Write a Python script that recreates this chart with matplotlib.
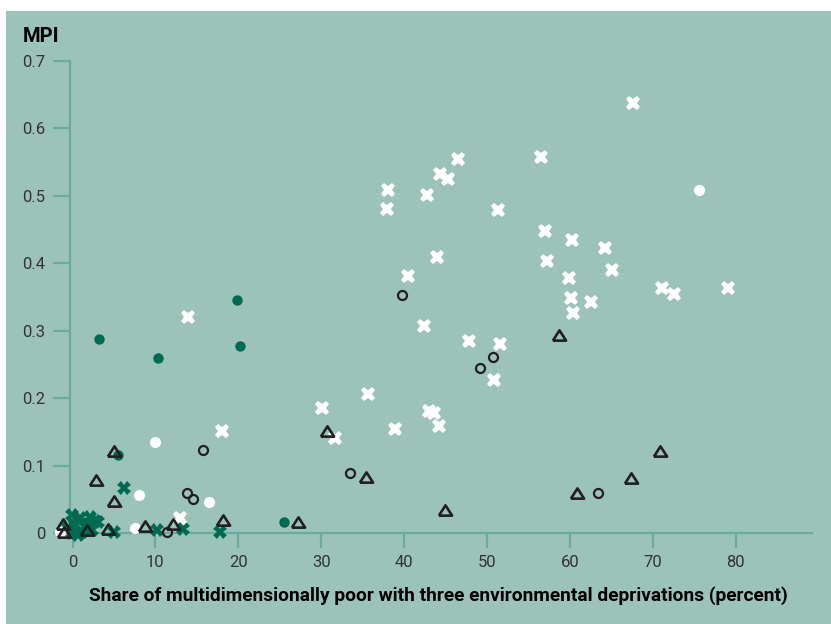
import matplotlib
matplotlib.use("Agg")
import matplotlib.pyplot as plt
from matplotlib.patches import Rectangle

plt.rcParams['font.family'] = ['Roboto', 'DejaVu Sans']

# --- data (share of MPI poor with 3 env. deprivations, MPI) ---
white_x_x = [13.9, 18.07, 12.97, 30.13, 31.7, 35.61, 38.02, 37.9, 40.43, 38.87, 42.36, 42.73,
             43.93, 44.33, 45.33, 46.47, 43.04, 43.64, 44.21, 47.83, 51.36, 51.53, 50.81,
             56.51, 57.0, 57.27, 60.29, 59.89, 60.13, 60.34, 62.55, 64.27, 65.08, 67.58,
             71.11, 72.59, 79.03]
white_x_y = [0.321, 0.152, 0.022, 0.185, 0.141, 0.206, 0.508, 0.481, 0.381, 0.154, 0.307, 0.502,
             0.409, 0.532, 0.525, 0.554, 0.181, 0.178, 0.159, 0.285, 0.479, 0.281, 0.227,
             0.558, 0.448, 0.404, 0.435, 0.378, 0.348, 0.326, 0.342, 0.422, 0.390, 0.637,
             0.364, 0.354, 0.364]

white_o_x = [75.57, 9.99, 7.99, 16.5, 7.58, -1.51]
white_o_y = [0.509, 0.135, 0.056, 0.046, 0.008, 0.001]

green_o_x = [19.81, 3.23, 20.21, 10.35, 5.43, 25.51]
green_o_y = [0.345, 0.287, 0.278, 0.259, 0.115, 0.017]

green_x_x = [6.21, 5.04, 10.16, 13.29, 17.79, -0.06, 0.9, 2.11, 2.71, 0.3, 1.51, -0.06,
             0.66, 2.35, -0.54, 3.08, 1.15, 1.87]
green_x_y = [0.066, 0.002, 0.004, 0.006, 0.002, 0.027, 0.022, 0.024, 0.018, 0.012, 0.009, 0.0,
             -0.003, 0.004, 0.007, 0.016, 0.001, 0.013]

tri_x = [5.01, 2.83, 5.04, 30.66, 35.37, 44.93, 27.24, 58.72, 70.83, 67.33, 60.82, 18.19,
         12.09, 8.78, 4.32, 1.79, -1.11, -0.99]
tri_y = [0.121, 0.078, 0.048, 0.152, 0.083, 0.034, 0.017, 0.294, 0.122, 0.081, 0.060, 0.019,
         0.013, 0.010, 0.006, 0.005, 0.014, 0.001]

open_o_x = [39.78, 50.76, 49.12, 33.44, 63.35, 15.71, 13.85, 14.5, 11.44]
open_o_y = [0.353, 0.261, 0.244, 0.089, 0.059, 0.123, 0.059, 0.050, 0.001]

x_ticks = [0, 10, 20, 30, 40, 50, 60, 70, 80]
y_ticks = [0, 0.1, 0.2, 0.3, 0.4, 0.5, 0.6, 0.7]
y_tick_labels = ['0', '0.1', '0.2', '0.3', '0.4', '0.5', '0.6', '0.7']

BG = '#9cc3b9'
AXC = '#6aab9b'
GREEN = '#006b52'
DARK = '#231f20'
TXT = '#333333'

W, H = 831, 624
fig = plt.figure(figsize=(W / 100, H / 100), dpi=100)
fig.patch.set_facecolor('white')
bg = Rectangle((6 / W, 0), 1 - 6 / W, 1 - 11 / H, transform=fig.transFigure,
               facecolor=BG, edgecolor='none', zorder=-10)
fig.patches.append(bg)

left_px, right_px, top_px, bot_px = 55, 812, 61, 533
ax = fig.add_axes([left_px / W, 1 - bot_px / H, (right_px - left_px) / W, (bot_px - top_px) / H])
ax.set_zorder(5)
ax.set_facecolor('none')
ax.set_xlim((left_px - 72.5) / 8.29, (right_px - 72.5) / 8.29)
ax.set_ylim(0, 0.7)

for s in ['top', 'right']:
    ax.spines[s].set_visible(False)
ax.spines['left'].set_position(('data', -0.3))
for s in ['left', 'bottom']:
    ax.spines[s].set_color(AXC)
    ax.spines[s].set_linewidth(1.6)

ax.set_xticks(x_ticks)
ax.set_xticklabels([str(t) for t in x_ticks])
ax.set_yticks(y_ticks)
ax.set_yticklabels(y_tick_labels)
ax.tick_params(axis='x', length=11, width=1.6, color=AXC, pad=5, labelsize=12, labelcolor=TXT)
ax.tick_params(axis='y', length=12, width=1.6, color=AXC, pad=6, labelsize=12, labelcolor=TXT)

tri_marker = [(-1, -0.78), (1, -0.78), (0, 0.78), (-1, -0.78)]

kw = dict(clip_on=False, linestyle='none')
ax.plot(green_x_x, green_x_y, marker='X', markersize=10, color=GREEN, markeredgewidth=0, zorder=3, **kw)
ax.plot(green_o_x, green_o_y, marker='o', markersize=7.5, color=GREEN, markeredgewidth=0, zorder=3, **kw)
ax.plot(white_o_x, white_o_y, marker='o', markersize=8, color='white', markeredgewidth=0, zorder=3, **kw)
ax.plot(white_x_x, white_x_y, marker='X', markersize=10.5, color='white', markeredgewidth=0, zorder=3, **kw)
ax.plot(open_o_x, open_o_y, marker='o', markersize=6.5, markerfacecolor='none',
        markeredgecolor=DARK, markeredgewidth=1.6, zorder=4, **kw)
ax.plot(tri_x, tri_y, marker=tri_marker, markersize=9.5, markerfacecolor='none',
        markeredgecolor=DARK, markeredgewidth=1.9, zorder=4, **kw)

fig.text(23 / W, 1 - 36 / H, 'MPI', fontsize=14.5, fontweight='bold', color='black',
         ha='left', va='center', zorder=6)
fig.text(438 / W, 1 - 596 / H,
         'Share of multidimensionally poor with three environmental deprivations (percent)',
         fontsize=13.8, fontweight='bold', color='black', ha='center', va='center', zorder=6)

fig.savefig('out.png', dpi=100, facecolor=fig.get_facecolor())
